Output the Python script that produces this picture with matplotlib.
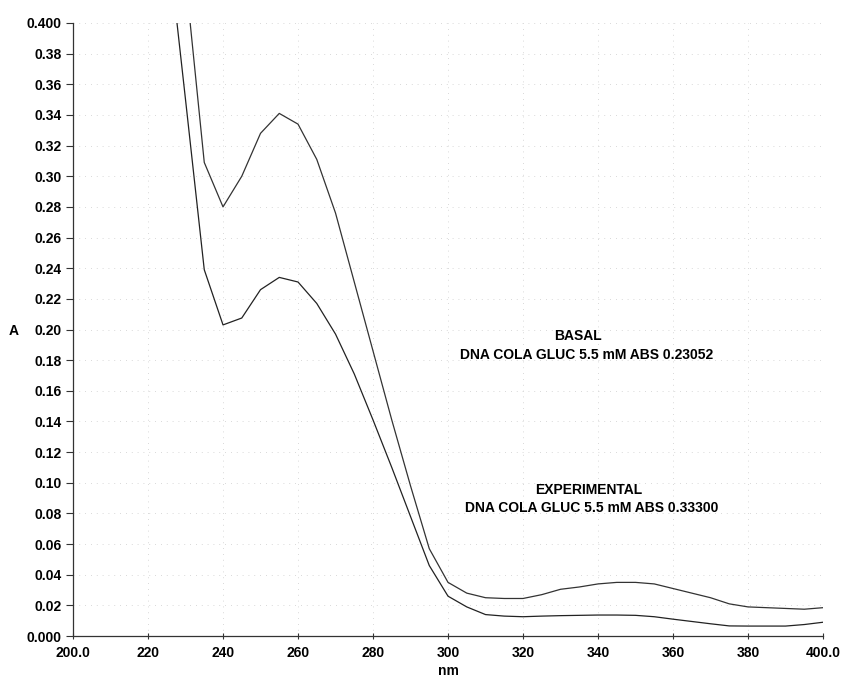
import numpy as np
import matplotlib
matplotlib.use('Agg')
import matplotlib.pyplot as plt

plt.rcParams['font.family'] = ['Liberation Sans', 'DejaVu Sans']
plt.rcParams['font.weight'] = 'bold'

# 波長 (nm)
wavelength = [225, 230, 235, 240, 245, 250, 255, 260, 265, 270,
              275, 280, 285, 290, 295, 300, 305, 310, 315, 320,
              325, 330, 335, 340, 345, 350, 355, 360, 365, 370,
              375, 380, 385, 390, 395, 400]

# EXPERIMENTAL (上の曲線)
abs_experimental = [0.55, 0.43, 0.309, 0.280, 0.300, 0.328, 0.341, 0.334, 0.311, 0.276,
                    0.231, 0.186, 0.141, 0.098, 0.057, 0.035, 0.028, 0.025, 0.0245, 0.0245,
                    0.027, 0.0305, 0.032, 0.034, 0.035, 0.035, 0.034, 0.031, 0.028, 0.025,
                    0.021, 0.019, 0.0185, 0.018, 0.0175, 0.0185]

# BASAL (下の曲線)
abs_basal = [0.46, 0.35, 0.239, 0.203, 0.2075, 0.226, 0.234, 0.231, 0.217, 0.197,
             0.171, 0.141, 0.110, 0.078, 0.046, 0.026, 0.019, 0.014, 0.013, 0.0126,
             0.013, 0.0133, 0.0135, 0.0137, 0.0137, 0.0135, 0.0126, 0.011, 0.0095, 0.008,
             0.0066, 0.0065, 0.0065, 0.0065, 0.0075, 0.009]

x_ticks = [200, 220, 240, 260, 280, 300, 320, 340, 360, 380, 400]
x_tick_labels = ['200.0', '220', '240', '260', '280', '300', '320', '340', '360', '380', '400.0']
y_ticks = [0.0, 0.02, 0.04, 0.06, 0.08, 0.10, 0.12, 0.14, 0.16, 0.18, 0.20,
           0.22, 0.24, 0.26, 0.28, 0.30, 0.32, 0.34, 0.36, 0.38, 0.40]
y_tick_labels = ['0.000', '0.02', '0.04', '0.06', '0.08', '0.10', '0.12', '0.14', '0.16', '0.18', '0.20',
                 '0.22', '0.24', '0.26', '0.28', '0.30', '0.32', '0.34', '0.36', '0.38', '0.400']

fig = plt.figure(figsize=(8.49, 6.82), dpi=100)
ax = fig.add_axes([0.086, 0.0674, 0.8834, 0.8989])

ax.plot(wavelength, abs_experimental, color='#333333', linewidth=0.9)
ax.plot(wavelength, abs_basal, color='#222222', linewidth=0.9)

ax.set_xlim(200, 400)
ax.set_ylim(0, 0.4)
ax.set_xticks(x_ticks)
ax.set_xticklabels(x_tick_labels)
ax.set_yticks(y_ticks)
ax.set_yticklabels(y_tick_labels)
ax.tick_params(axis='both', labelsize=10, width=0.8, color='#333333')
ax.tick_params(axis='y', length=5, direction='out', pad=3)
ax.tick_params(axis='x', length=4, direction='inout', pad=5)

for s in ['top', 'right']:
    ax.spines[s].set_visible(False)
for s in ['left', 'bottom']:
    ax.spines[s].set_color('#333333')
    ax.spines[s].set_linewidth(0.9)

# かすれた点線グリッド
ax.grid(True, color='#cccccc', linestyle=(0, (1, 6)), linewidth=0.6)

ax.set_xlabel('nm', fontsize=10, fontweight='bold', labelpad=3)
ax.set_ylabel('A', fontsize=10, fontweight='bold', rotation=0)
ax.yaxis.set_label_coords(-0.079, 0.486)

ax.text(0.673, 0.489, 'BASAL', transform=ax.transAxes, ha='center', va='center',
        fontsize=10, fontweight='bold')
ax.text(0.685, 0.458, 'DNA COLA GLUC 5.5 mM ABS 0.23052', transform=ax.transAxes,
        ha='center', va='center', fontsize=10, fontweight='bold')
ax.text(0.688, 0.238, 'EXPERIMENTAL', transform=ax.transAxes, ha='center', va='center',
        fontsize=10, fontweight='bold')
ax.text(0.691, 0.209, 'DNA COLA GLUC 5.5 mM ABS 0.33300', transform=ax.transAxes,
        ha='center', va='center', fontsize=10, fontweight='bold')

plt.savefig('out.png', dpi=100)
